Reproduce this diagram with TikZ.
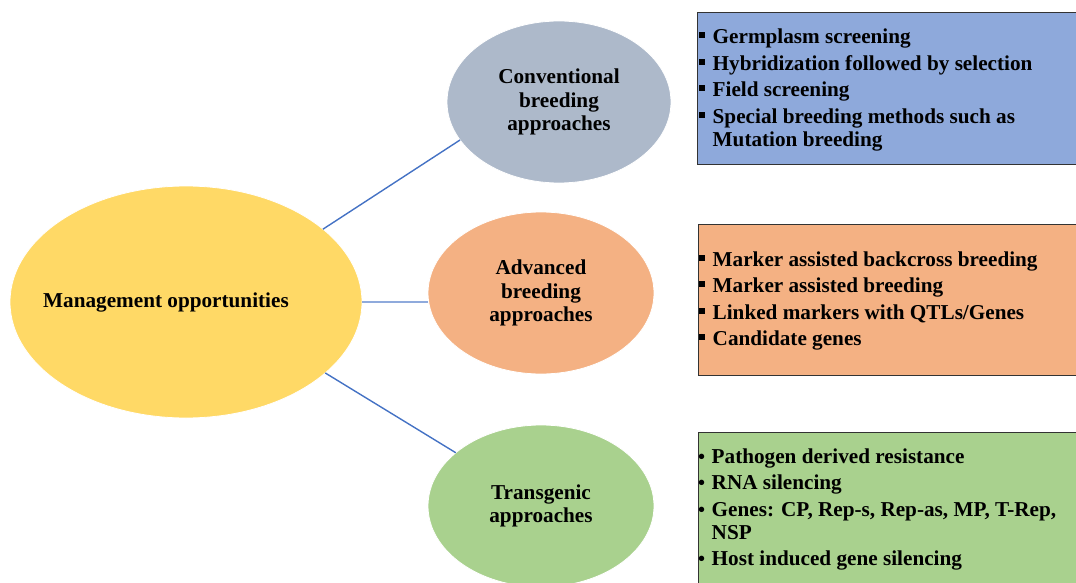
\documentclass[tikz,border=0pt]{standalone}
\usepackage{fontspec}
\setmainfont{Liberation Serif}
\usetikzlibrary{shapes.geometric}
\definecolor{yel}{HTML}{FFD966}
\definecolor{gry}{HTML}{ADB9CA}
\definecolor{org}{HTML}{F4B183}
\definecolor{grn}{HTML}{A9D18E}
\definecolor{blu}{HTML}{8EA9DB}
\definecolor{lnk}{HTML}{4472C4}
\definecolor{lnklight}{HTML}{8FAADC}
\newcommand\bsq{\makebox[13.5pt][l]{\rule[5.5pt]{6pt}{6pt}}}
\newcommand\bdot{\makebox[13.5pt][l]{\raisebox{0pt}{\fontsize{20}{20}\selectfont •}}}
\begin{document}
\begin{tikzpicture}[x=1pt,y=-1pt,
  ell/.style={ellipse, draw=white, line width=0.8pt, inner sep=0pt, outer sep=0pt,
    align=center, font=\fontsize{21.2}{23.5}\selectfont\bfseries},
  box/.style={rectangle, draw=black!80, line width=0.9pt, inner sep=0pt,
    anchor=north west, minimum width=420pt},
  list/.style={anchor=base west, inner sep=0pt, font=\fontsize{21.2}{23}\selectfont\bfseries},
  link/.style={draw=lnk, line width=1.4pt}]
\useasboundingbox (0,0) rectangle (1076,583);
\clip (0,0) rectangle (1076,583);

% ellipses
\node[ell, fill=yel, minimum width=352pt, minimum height=232pt] (main) at (186,302) {};
\node[inner sep=0pt, font=\fontsize{21.2}{23.5}\selectfont\bfseries] (maintext) at (166,302) {Management opportunities};
\node[ell, fill=gry, minimum width=224pt, minimum height=162pt] (conv) at (559,102)
  {Conventional\\breeding\\approaches};
\node[ell, fill=org, minimum width=226pt, minimum height=162pt] (adv) at (541,293)
  {Advanced\\breeding\\approaches};
\node[ell, fill=grn, minimum width=226pt, minimum height=162pt] (trans) at (541,506)
  {Transgenic\\approaches};

% connectors
\draw[link] (main.28.6) -- (conv.201);
\draw[link, draw=lnklight] (main.east) -- (adv.west |- main.east);
\draw[link] (main.-27.7) -- (trans.148.4);

% boxes
\node[box, fill=blu, minimum height=152pt] (b1) at (697,12) {};
\node[box, fill=org, minimum height=151pt] (b2) at (698,224) {};
\node[box, fill=grn, minimum height=170pt] (b3) at (698,432) {};

\node[list] (t1) at (699,44) {\begin{tabular}[t]{@{}l@{}l@{}}
\bsq & Germplasm screening\\[3.5pt]
\bsq & Hybridization followed by selection\\[3.5pt]
\bsq & Field screening\\[3.5pt]
\bsq & Special breeding methods such as\\
     & Mutation breeding
\end{tabular}};

\node[list] (t2) at (699,266) {\begin{tabular}[t]{@{}l@{}l@{}}
\bsq & Marker assisted backcross breeding\\[3.5pt]
\bsq & Marker assisted breeding\\[3.5pt]
\bsq & Linked markers with QTLs/Genes\\[3.5pt]
\bsq & Candidate genes
\end{tabular}};

\node[list] (t3) at (698,463) {\begin{tabular}[t]{@{}l@{}l@{}}
\bdot & Pathogen derived resistance\\[3.5pt]
\bdot & RNA silencing\\[3.5pt]
\bdot & Genes: CP, Rep-s, Rep-as, MP, T-Rep,\\
      & NSP\\[3.5pt]
\bdot & Host induced gene silencing
\end{tabular}};
\end{tikzpicture}
\end{document}
